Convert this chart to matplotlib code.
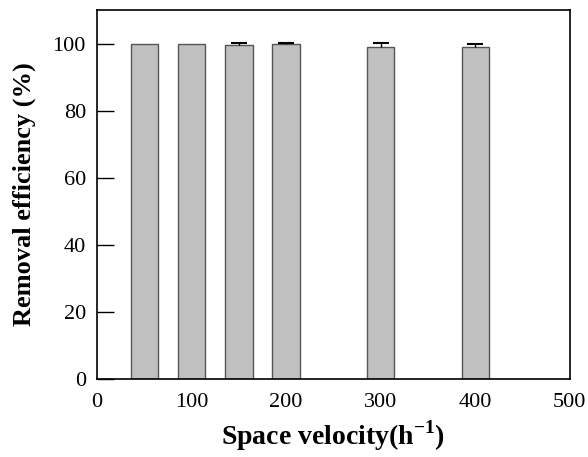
import matplotlib
matplotlib.use("Agg")
import matplotlib.pyplot as plt

velocity = [50, 100, 150, 200, 300, 400]
efficiency = [100.0, 100.0, 99.7, 100.0, 99.1, 99.0]
err_up = [0.0, 0.0, 0.4, 0.2, 1.2, 0.9]

plt.rcParams['font.family'] = ['Liberation Serif', 'DejaVu Serif']

fig = plt.figure(figsize=(5.88, 4.57), dpi=100)
ax = fig.add_axes([0.165, 0.171, 0.804, 0.807])

ax.bar(velocity, efficiency, width=29, color='#c0c0c0', edgecolor='#555555', linewidth=1.0, zorder=2)
ex = [v for v, e in zip(velocity, err_up) if e > 0]
ey = [v for v, e in zip(efficiency, err_up) if e > 0]
ee = [e for e in err_up if e > 0]
_, caps, _ = ax.errorbar(ex, ey, yerr=[[0]*len(ee), ee], fmt='none',
                         ecolor='black', elinewidth=1.0, capsize=6, capthick=1.5, zorder=3)
caps[0].set_visible(False)

ax.set_xlim(0, 500)
ax.set_ylim(0, 110)
ax.set_xticks([0, 100, 200, 300, 400, 500])
ax.set_yticks([0, 20, 40, 60, 80, 100])
ax.tick_params(axis='y', direction='in', length=12, width=1, labelsize=16, pad=8)
ax.tick_params(axis='x', length=0, labelsize=16, pad=10)
for s in ax.spines.values():
    s.set_linewidth(1.2)

ax.set_xlabel('Space velocity(h$^{\\mathregular{-1}}$)', fontsize=20, fontweight='bold', labelpad=5)
ax.set_ylabel('Removal efficiency (%)', fontsize=19, fontweight='bold', labelpad=12)

fig.savefig('out.png', dpi=100)
